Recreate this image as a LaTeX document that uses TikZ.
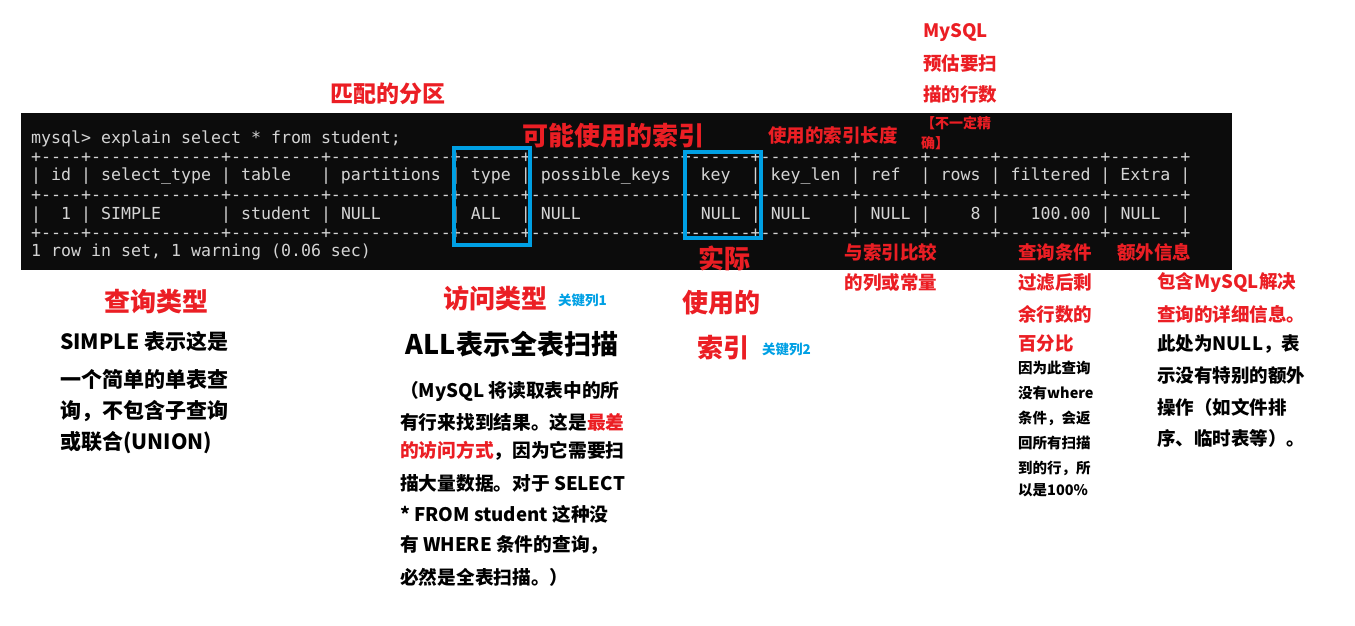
\documentclass[tikz,border=0pt]{standalone}
\usepackage{fontspec}
\setmainfont{Noto Sans CJK SC}
\setmonofont{DejaVu Sans Mono}
\usepackage{tikz}
\usetikzlibrary{positioning}
\usepackage{xcolor}

\definecolor{lred}{RGB}{235,30,36}
\definecolor{lblue}{RGB}{0,160,228}
\definecolor{termbg}{RGB}{12,12,12}
\definecolor{termfg}{RGB}{212,212,212}
\newcommand{\fsz}[1]{\fontsize{#1}{#1}\selectfont}

\begin{document}
\begin{tikzpicture}[x=1pt,y=-1pt,
  termline/.style={anchor=west,inner sep=0,text=termfg,font=\ttfamily\fsz{16.6}},
  redlab/.style={inner sep=0,text=lred,font=\bfseries\fsz{#1}},
  blacklab/.style={inner sep=0,text=black,font=\bfseries\fsz{#1}},
  keylab/.style={inner sep=0,anchor=west,text=lblue,font=\bfseries\fsz{13.5}},
  selbox/.style={draw=lblue,line width=4pt}]
\useasboundingbox (0,0) rectangle (1355,626);

% terminal
{
\fill[termbg] (21,113) rectangle (1232,270);

\node[termline] (cmd) at (31,139) {mysql> explain select * from student;};
\node[termline] (sepa) at (31,158) {+----+-------------+---------+------------+------+---------------+------+---------+------+------+----------+-------+};
\node[termline] (head) at (31,176) {|~id~|~select\_type~|~table~~~|~partitions~|~type~|~possible\_keys~|~key~~|~key\_len~|~ref~~|~rows~|~filtered~|~Extra~|};
\node[termline] (sepb) at (31,196) {+----+-------------+---------+------------+------+---------------+------+---------+------+------+----------+-------+};
\node[termline] (row) at (31,215) {|~~1~|~SIMPLE~~~~~~|~student~|~NULL~~~~~~~|~ALL~~|~NULL~~~~~~~~~~|~NULL~|~NULL~~~~|~NULL~|~~~~8~|~~~100.00~|~NULL~~|};
\node[termline] (sepc) at (31,234) {+----+-------------+---------+------------+------+---------------+------+---------+------+------+----------+-------+};
\node[termline] (foot) at (31,252) {1 row in set, 1 warning (0.06 sec)};
}

% blue boxes
{
\draw[selbox] (454,148) rectangle (530,245);
\draw[selbox] (685,152) rectangle (761,238);
}

% labellings above
{
\node[redlab=23] (part) at (388,94) {匹配的分区};
\node[redlab=26] (posskey) at (613,136) {可能使用的索引};
\node[redlab=18.5] (keylen) at (833,135) {使用的索引长度};

\node[redlab=18.5, anchor=west] (rowsa) at (923,33) {MySQL};
\node[redlab=18.5, anchor=west] (rowsb) at (923,64) {预估要扫};
\node[redlab=18.5, anchor=west] (rowsc) at (923,95) {描的行数};
\node[redlab=14, anchor=west] (rowsd) at (921,123) {【不一定精};
\node[redlab=14, anchor=west] (rowse) at (921,143) {确】};
}

% labellings below
{
\node[redlab=26] (reala) at (724,258) {实际};
\node[redlab=26] (realb) at (721,303) {使用的};
\node[redlab=26, anchor=west] (realc) at (697,348) {索引};
\node[keylab] (keytwo) at (762,349) {关键列2};

\node[redlab=18.5] (refa) at (891,252) {与索引比较};
\node[redlab=18.5] (refb) at (891,283) {的列或常量};

\node[redlab=18.5, anchor=west] (filta) at (1018,252) {查询条件};
\node[redlab=18.5, anchor=west] (filtb) at (1018,283) {过滤后剩};
\node[redlab=18.5, anchor=west] (filtc) at (1018,314) {余行数的};
\node[redlab=18.5, anchor=west] (filtd) at (1018,344) {百分比};
\node[blacklab=14.5, anchor=west] (filte) at (1018,368) {因为此查询};
\node[blacklab=14.5, anchor=west] (filtf) at (1018,393) {没有where};
\node[blacklab=14.5, anchor=west] (filtg) at (1018,418) {条件，会返};
\node[blacklab=14.5, anchor=west] (filth) at (1018,443) {回所有扫描};
\node[blacklab=14.5, anchor=west] (filti) at (1018,468) {到的行，所};
\node[blacklab=14.5, anchor=west] (filtj) at (1018,490) {以是100\%};

\node[redlab=18.5, anchor=west] (extraa) at (1117,252) {额外信息};
\node[redlab=18.5, anchor=west] (extrab) at (1157,283) {包含MySQL解决};
\node[redlab=18.5, anchor=west] (extrac) at (1157,314) {查询的详细信息。};
\node[blacklab=18.5, anchor=west] (extrad) at (1157,344) {此处为NULL，表};
\node[blacklab=18.5, anchor=west] (extrae) at (1157,376) {示没有特别的额外};
\node[blacklab=18.5, anchor=west] (extraf) at (1157,407) {操作（如文件排};
\node[blacklab=18.5, anchor=west] (extrag) at (1157,438) {序、临时表等）。};
}

% select_type
{
\node[redlab=26] (sela) at (156,302) {查询类型};
\node[blacklab=21, anchor=west] (selb) at (60,341) {SIMPLE 表示这是};
\node[blacklab=21, anchor=west] (selc) at (60,379) {一个简单的单表查};
\node[blacklab=21, anchor=west] (seld) at (60,411) {询，不包含子查询};
\node[blacklab=21, anchor=west] (sele) at (60,443) {或联合(UNION)};
}

% type
{
\node[redlab=26] (typea) at (495,299) {访问类型};
\node[keylab] (keyone) at (558,300) {关键列1};
\node[blacklab=27] (typeb) at (512,344) {ALL表示全表扫描};
\node[blacklab=18.7, anchor=west] (typec) at (400,391) {（MySQL 将读取表中的所};
\node[blacklab=18.7, anchor=west] (typed) at (400,422) {有行来找到结果。这是{\color{lred}最差}};
\node[blacklab=18.7, anchor=west] (typee) at (400,451) {{\color{lred}的访问方式}，因为它需要扫};
\node[blacklab=18.7, anchor=west] (typef) at (400,483) {描大量数据。对于 SELECT};
\node[blacklab=18.7, anchor=west] (typeg) at (400,514) {* FROM student 这种没};
\node[blacklab=18.7, anchor=west] (typeh) at (400,545) {有 WHERE 条件的查询，};
\node[blacklab=18.7, anchor=west] (typei) at (400,577) {必然是全表扫描。）};
}

\end{tikzpicture}
\end{document}
